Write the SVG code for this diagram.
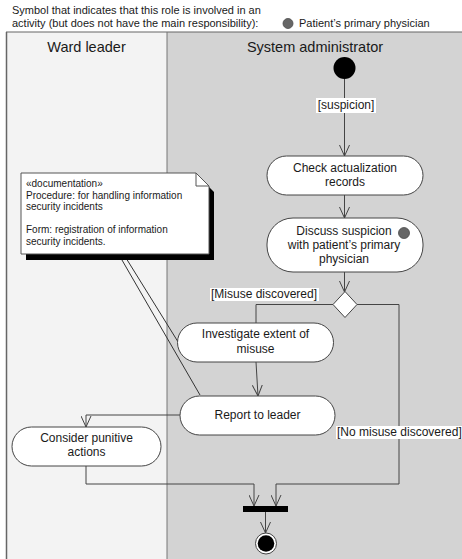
<svg xmlns="http://www.w3.org/2000/svg" width="462" height="559" viewBox="0 0 462 559">
  <style>
    text { font-family: "Liberation Sans", Arial, sans-serif; fill: #1a1a1a; }
    .hdr { font-size: 11px; }
    .lane-title { font-size: 14.5px; text-anchor: middle; }
    .act rect { fill: #ffffff; stroke: #444444; stroke-width: 1; }
    .act text { font-size: 12px; text-anchor: middle; }
    .edge { fill: none; stroke: #444444; stroke-width: 1; }
    .guard { font-size: 12px; }
    .guard-bg { fill: #ffffff; }
    .note-text { font-size: 10px; }
    .anchor { fill: none; stroke: #333333; stroke-width: 1; }
    .involved { fill: #666666; stroke: #4a4a4a; stroke-width: 0.8; }
  </style>
  <defs>
    <marker id="open" viewBox="0 0 11 11" refX="11" refY="5.5" markerWidth="11" markerHeight="11" markerUnits="userSpaceOnUse" orient="auto">
      <path d="M0,0.5 L11,5.5 L0,10.5" fill="none" stroke="#444444" stroke-width="1"/>
    </marker>
  </defs>

  <rect x="0" y="0" width="462" height="559" fill="#ffffff"/>

  <!-- legend -->
  <g id="legend">
    <text class="hdr" x="12" y="14">Symbol that indicates that this role is involved in an</text>
    <text class="hdr" x="12" y="27">activity (but does not have the main responsibility):</text>
    <circle class="involved" cx="288" cy="23.5" r="5"/>
    <text class="hdr" x="299" y="27">Patient’s primary physician</text>
  </g>

  <!-- swimlanes -->
  <g id="lanes">
    <rect x="6" y="32" width="161" height="527" fill="#f3f3f3"/>
    <rect x="167" y="32" width="295" height="527" fill="#d3d3d3"/>
    <line x1="6" y1="32" x2="462" y2="32" stroke="#666666" stroke-width="1.2"/>
    <line x1="6.5" y1="32" x2="6.5" y2="559" stroke="#666666" stroke-width="1.5"/>
    <line x1="167" y1="32" x2="167" y2="559" stroke="#777777" stroke-width="1"/>
    <text class="lane-title" x="86.5" y="52">Ward leader</text>
    <text class="lane-title" x="315" y="52">System administrator</text>
  </g>

  <!-- connectors -->
  <g id="connectors">
    <line class="edge" x1="344.5" y1="79" x2="344.5" y2="156" marker-end="url(#open)"/>
    <line class="edge" x1="344.5" y1="195" x2="344.5" y2="218" marker-end="url(#open)"/>
    <line class="edge" x1="344.5" y1="272" x2="344.5" y2="292" marker-end="url(#open)"/>
    <polyline class="edge" points="333,304.5 256,304.5 256,323"/>
    <polyline class="edge" points="357,304.5 399,304.5 399,484 276,484 276,506" marker-end="url(#open)"/>
    <line class="edge" x1="256" y1="362" x2="258" y2="396" marker-end="url(#open)"/>
    <polyline class="edge" points="180,415 86,415 86,427" marker-end="url(#open)"/>
    <polyline class="edge" points="86,466 86,484 254,484 254,506" marker-end="url(#open)"/>
    <line class="edge" x1="265.5" y1="512" x2="265.5" y2="533" marker-end="url(#open)"/>
    <!-- note anchors -->
    <line class="anchor" x1="118.5" y1="254" x2="200" y2="395"/>
    <line class="anchor" x1="123.5" y1="254" x2="177.5" y2="341"/>
    <!-- guards -->
    <rect class="guard-bg" x="316" y="98" width="60" height="15"/>
    <text class="guard" x="346" y="109" text-anchor="middle">[suspicion]</text>
    <rect class="guard-bg" x="210" y="288" width="109" height="13"/>
    <text class="guard" x="211" y="298">[Misuse discovered]</text>
    <rect class="guard-bg" x="336" y="426" width="126" height="13"/>
    <text class="guard" x="337" y="436">[No misuse discovered]</text>
  </g>

  <!-- start -->
  <g id="initial">
    <circle cx="344.5" cy="68" r="11" fill="#000000"/>
  </g>

  <g id="check-records" class="act">
    <rect x="267" y="156" width="156" height="39" rx="19.5" ry="19.5"/>
    <text x="345" y="172">Check actualization</text>
    <text x="345" y="186">records</text>
  </g>

  <g id="discuss-suspicion" class="act">
    <rect x="267" y="218" width="156" height="54" rx="26" ry="26"/>
    <text x="344" y="235">Discuss suspicion</text>
    <text x="344" y="249">with patient’s primary</text>
    <text x="344" y="263">physician</text>
    <circle class="involved" cx="404" cy="233" r="5.5"/>
  </g>

  <g id="decision">
    <polygon points="345,291.5 357,304.5 345,317.5 333,304.5" fill="#ffffff" stroke="#444444" stroke-width="1"/>
  </g>

  <g id="investigate-misuse" class="act">
    <rect x="177.5" y="323" width="156" height="39" rx="19.5" ry="19.5"/>
    <text x="255.5" y="338">Investigate extent of</text>
    <text x="255.5" y="353">misuse</text>
  </g>

  <g id="report-to-leader" class="act">
    <rect x="180" y="396" width="155" height="39" rx="19.5" ry="19.5"/>
    <text x="257.5" y="419">Report to leader</text>
  </g>

  <g id="consider-actions" class="act">
    <rect x="12" y="427" width="149" height="39" rx="19.5" ry="19.5"/>
    <text x="86.5" y="442">Consider punitive</text>
    <text x="86.5" y="456">actions</text>
  </g>

  <g id="join">
    <rect x="243" y="506" width="45" height="6" fill="#000000"/>
  </g>

  <g id="final">
    <circle cx="266" cy="543.5" r="10.5" fill="#ffffff" stroke="#444444" stroke-width="1"/>
    <circle cx="266" cy="543.5" r="8.3" fill="#000000"/>
  </g>

  <!-- documentation note -->
  <g id="documentation-note">
    <polygon points="26,179 201,179 214,192 214,260 26,260" fill="#000000"/>
    <polygon points="21,173 196,173 209,186 209,254 21,254" fill="#ffffff" stroke="#555555" stroke-width="1"/>
    <polyline points="196,173 196,186 209,186" fill="none" stroke="#555555" stroke-width="1"/>
    <text class="note-text" x="26" y="187">«documentation»</text>
    <text class="note-text" x="26" y="198.5">Procedure: for handling information</text>
    <text class="note-text" x="26" y="210">security incidents</text>
    <text class="note-text" x="26" y="233">Form: registration of information</text>
    <text class="note-text" x="26" y="244.5">security incidents.</text>
  </g>
</svg>
